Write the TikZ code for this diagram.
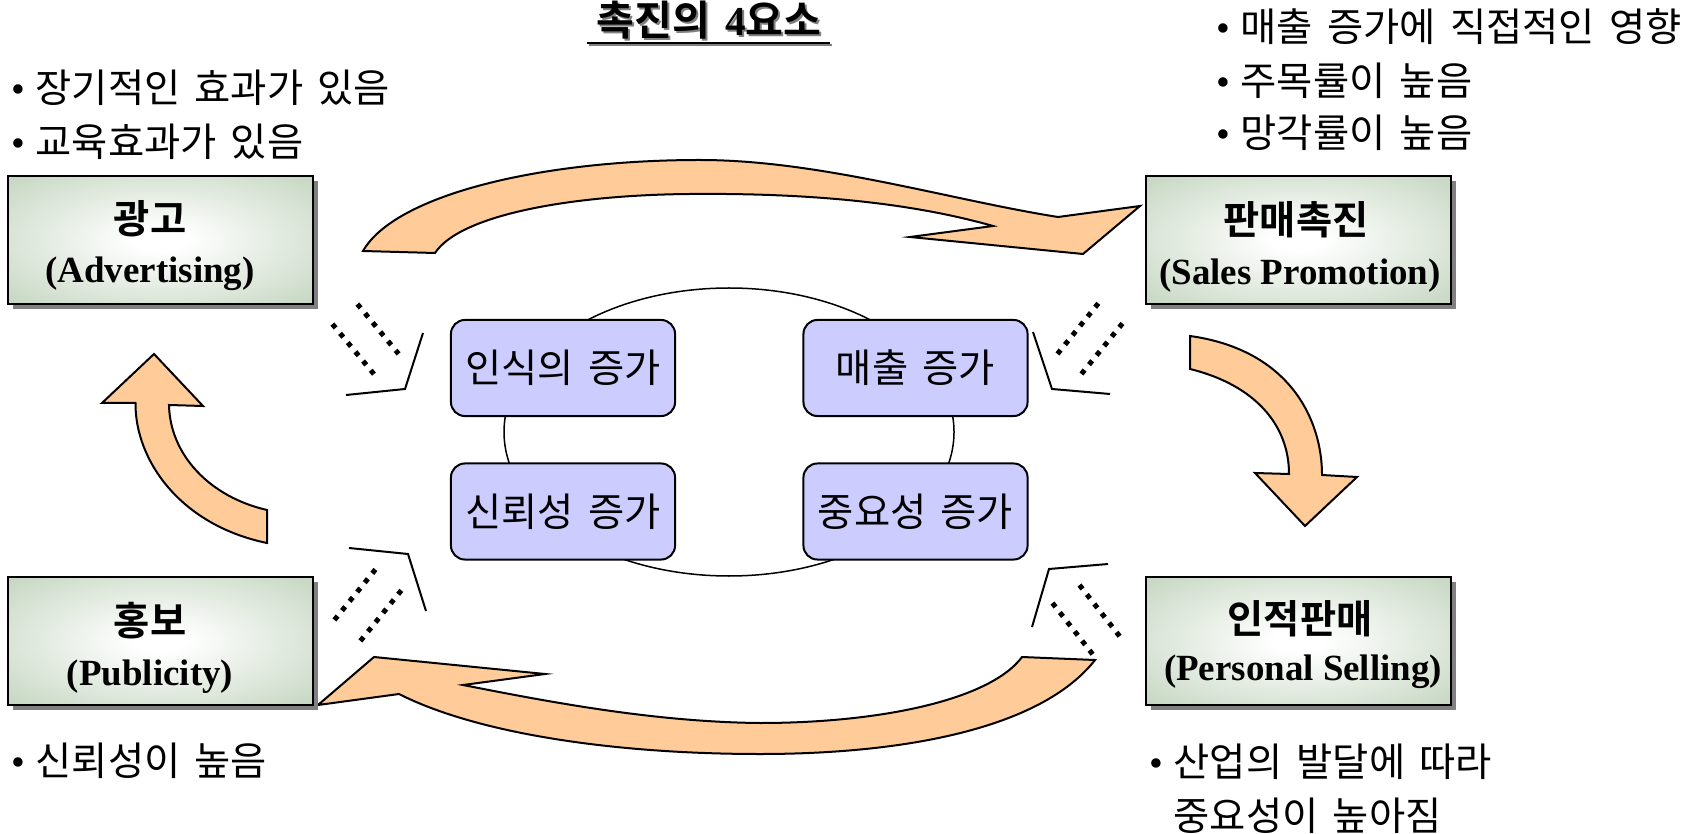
\documentclass[tikz,border=0pt]{standalone}
\usepackage{fontspec}
\setmainfont{Liberation Serif}
\newfontfamily\kr{Noto Sans CJK KR}[BoldFont={Noto Sans CJK KR Bold}, WordSpace=1.6]
\usetikzlibrary{shadows}

\definecolor{arrowfill}{RGB}{255,204,153}
\definecolor{bluefill}{RGB}{204,204,255}
\definecolor{boxgreen}{RGB}{200,216,196}
\definecolor{shadowgray}{RGB}{128,128,128}

\pgfdeclareradialshading{boxglow}{\pgfpoint{0bp}{0bp}}{%
  color(0bp)=(white); color(4bp)=(white); color(34bp)=(boxgreen); color(50bp)=(boxgreen)}

\newcommand\txtsize{\fontsize{11.2pt}{13pt}\selectfont}
\newcommand\engsize{\fontsize{10.5pt}{12pt}\selectfont}
\newcommand\ttlsize{\fontsize{11.7pt}{13pt}\selectfont}
\newcommand\blt{\makebox[0.14cm][c]{\rmfamily •}\hspace{0.1cm}}

\begin{document}
\begin{tikzpicture}[x=0.01cm,y=-0.01cm,
  gbox/.style={draw=black, line width=0.02cm, minimum width=3.05cm, minimum height=1.28cm,
    shade, shading=boxglow,
    drop shadow={shadow xshift=0.05cm, shadow yshift=-0.05cm, fill=shadowgray, opacity=1}},
  bbox/.style={draw=black, line width=0.02cm, fill=bluefill, rounded corners=0.14cm,
    minimum width=2.24cm, minimum height=0.96cm, inner sep=0pt, font=\kr\txtsize},
  btxt/.style={anchor=west, inner sep=0pt, font=\kr\txtsize},
  ktitle/.style={inner sep=0pt, font=\kr\bfseries\txtsize},
  etitle/.style={anchor=base, inner sep=0pt, font=\bfseries\engsize},
  ttl/.style={anchor=base, inner sep=0pt, font=\kr\bfseries\ttlsize},
  blockarrow/.style={draw=black, line width=0.02cm, fill=arrowfill, line join=miter},
  bracket/.style={draw=black, line width=0.02cm},
  dotline/.style={line width=0.05cm, dash pattern=on 0.05cm off 0.07cm,
    shorten <=-0.025cm, shorten >=-0.025cm},
]
% canvas
\fill[white] (0,0) rectangle (1695,834);
\useasboundingbox (0,0) rectangle (1695,834);

% heading with its shadow and underline
\node[ttl, text=shadowgray] (ttlsh) at (711,38) {촉진의 {\rmfamily 4}요소};
\draw[shadowgray, line width=0.02cm] (589,45) -- (832,45);
\node[ttl] (ttl) at (709,36) {촉진의 {\rmfamily 4}요소};
\draw[line width=0.02cm] (587,43) -- (830,43);

% notes beside each tool
\node[btxt] (adv1) at (11,88) {\blt 장기적인 효과가 있음};
\node[btxt] (adv2) at (11,142) {\blt 교육효과가 있음};
\node[btxt] (spr1) at (1216,27) {\blt 매출 증가에 직접적인 영향};
\node[btxt] (spr2) at (1216,81) {\blt 주목률이 높음};
\node[btxt] (spr3) at (1216,133) {\blt 망각률이 높음};
\node[btxt] (pub1) at (11,761) {\blt 신뢰성이 높음};
\node[btxt] (psl1) at (1149,762) {\blt 산업의 발달에 따라};
\node[btxt] (psl2) at (1173,816) {중요성이 높아짐};

% curved block arrows
% advertising -> sales promotion
\path[blockarrow]
  (363,251) .. controls (395,195) and (540,160) .. (700,160)
  .. controls (820,160) and (950,200) .. (1058,217)
  -- (1140,206) -- (1083,254) -- (910,237) -- (993,226)
  .. controls (905,201) and (800,193) .. (690,194)
  .. controls (570,195) and (460,215) .. (435,253)
  -- cycle;
% sales promotion -> personal selling
\path[blockarrow]
  (1190,369) -- (1190,336)
  .. controls (1290,350) and (1322,420) .. (1322,475)
  -- (1357,477) -- (1305,526) -- (1255,473) -- (1289,474)
  .. controls (1289,425) and (1255,385) .. (1190,369)
  -- cycle;
% personal selling -> publicity
\path[blockarrow]
  (1022,657) -- (1095,660)
  .. controls (1040,730) and (900,754) .. (760,754)
  .. controls (620,754) and (480,735) .. (399,694)
  -- (318,705) -- (374,657) -- (545,674) -- (463,685)
  .. controls (540,700) and (650,722) .. (760,723)
  .. controls (880,723) and (990,700) .. (1022,657)
  -- cycle;
% publicity -> advertising
\path[blockarrow]
  (267,510) -- (267,543)
  .. controls (180,525) and (135,460) .. (135.5,403)
  -- (102,403) -- (154,354) -- (203,406) -- (169,405)
  .. controls (170,455) and (210,497) .. (267,510)
  -- cycle;

% the four promotion tools
\node[gbox] (adv) at (160.5,240) {};
\node[gbox] (spr) at (1298.5,240) {};
\node[gbox] (pub) at (160.5,641) {};
\node[gbox] (psl) at (1298.5,641) {};
\node[ktitle] (advk) at (150,219) {광고};
\node[etitle] (adve) at (150,283) {(Advertising)};
\node[ktitle] (sprk) at (1296,220) {판매촉진};
\node[etitle] (spre) at (1300,285) {(Sales Promotion)};
\node[ktitle] (pubk) at (150,621) {홍보};
\node[etitle] (pube) at (150,685) {(Publicity)};
\node[ktitle] (pslk) at (1300,619) {인적판매};
\node[etitle] (psle) at (1303,680) {(Personal Selling)};

% central cycle of effects
\draw[line width=0.015cm] (729,432) ellipse [x radius=225, y radius=144];
\node[bbox] (aware) at (563,368) {인식의 증가};
\node[bbox] (sales) at (915.5,368) {매출 증가};
\node[bbox] (trust) at (563,511.5) {신뢰성 증가};
\node[bbox] (weight) at (915.5,511.5) {중요성 증가};

% corner brackets
\draw[bracket] (346,395) -- (405,389) -- (423,333);
\draw[bracket] (1033,332) -- (1052,389) -- (1110,394);
\draw[bracket] (349,548) -- (408,554) -- (426,611);
\draw[bracket] (1108,564) -- (1049,569) -- (1032,627);

% dotted rays
\draw[dotline] (334,326) -- (373,373);
\draw[dotline] (359,306) -- (397,352);
\draw[dotline] (1059,352) -- (1097,305);
\draw[dotline] (1083,372) -- (1122,324);
\draw[dotline] (336,618) -- (375,570);
\draw[dotline] (362,639) -- (400,592);
\draw[dotline] (1054,605) -- (1094,656);
\draw[dotline] (1081,587) -- (1121,638);
\end{tikzpicture}
\end{document}
